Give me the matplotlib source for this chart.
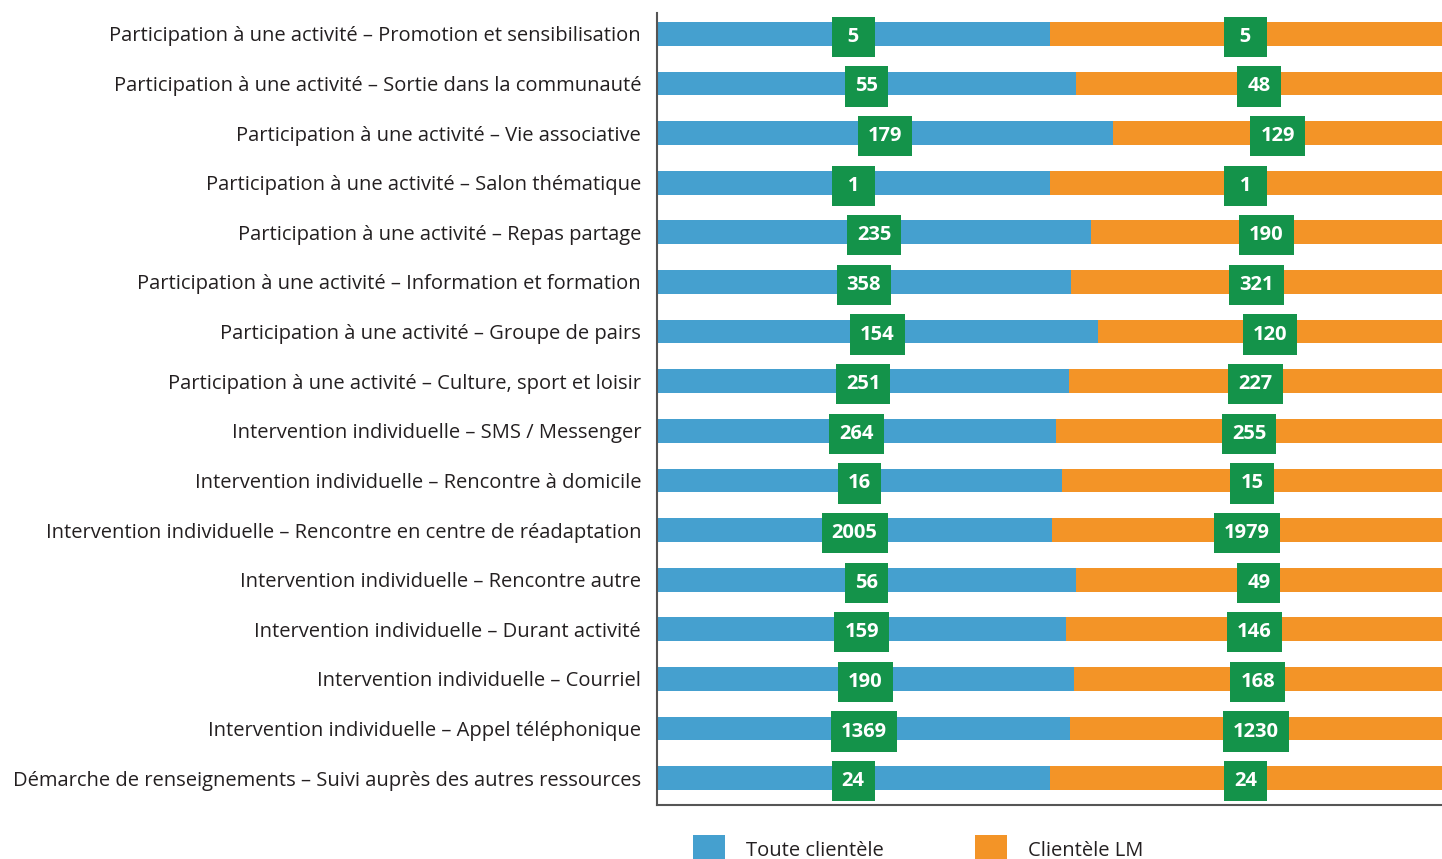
import matplotlib
matplotlib.use("Agg")
import matplotlib.pyplot as plt
import numpy as np

categories = [
    "Participation à une activité – Promotion et sensibilisation",
    "Participation à une activité – Sortie dans la communauté",
    "Participation à une activité – Vie associative",
    "Participation à une activité – Salon thématique",
    "Participation à une activité – Repas partage",
    "Participation à une activité – Information et formation",
    "Participation à une activité – Groupe de pairs",
    "Participation à une activité – Culture, sport et loisir",
    "Intervention individuelle – SMS / Messenger",
    "Intervention individuelle – Rencontre à domicile",
    "Intervention individuelle – Rencontre en centre de réadaptation",
    "Intervention individuelle – Rencontre autre",
    "Intervention individuelle – Durant activité",
    "Intervention individuelle – Courriel",
    "Intervention individuelle – Appel téléphonique",
    "Démarche de renseignements – Suivi auprès des autres ressources",
]
toute = [5, 55, 179, 1, 235, 358, 154, 251, 264, 16, 2005, 56, 159, 190, 1369, 24]
lm = [5, 48, 129, 1, 190, 321, 120, 227, 255, 15, 1979, 49, 146, 168, 1230, 24]
series_names = ["Toute clientèle", "Clientèle LM"]

BLUE = "#45a0cf"
ORANGE = "#f39427"
GREEN = "#14934a"
FONT = "Open Sans"

plt.rcParams['font.family'] = [FONT, 'DejaVu Sans']

fig = plt.figure(figsize=(14.42, 8.59), dpi=100)
ax = fig.add_axes([657/1442, 1-805/859, 1-657/1442, (805-13)/859])

t = np.array(toute, dtype=float)
o = np.array(lm, dtype=float)
tot = t + o
ft = t / tot
fo = o / tot
y = np.arange(len(categories))
h = 0.48
ax.barh(y, ft, height=h, color=BLUE, label=series_names[0])
ax.barh(y, fo, left=ft, height=h, color=ORANGE, label=series_names[1])

def lab(v):
    s = str(v)
    return s if len(s) > 1 else "\u2008" + s + "\u2008"

for i in range(len(categories)):
    for xc, v in ((ft[i] / 2, toute[i]), (ft[i] + fo[i] / 2, lm[i])):
        ax.text(xc, y[i] + 0.06, lab(v), ha="center", va="center", color="white",
                fontsize=14.5, fontweight="bold", family=[FONT, 'DejaVu Sans'],
                bbox=dict(boxstyle="square,pad=0.5", fc=GREEN, ec="none"))

ax.set_xlim(0, 1)
ax.set_ylim(15.54, -0.42)
ax.set_yticks(y)
ax.set_yticklabels(categories, fontsize=14.5, color="#231f20")
ax.tick_params(axis="y", length=0, pad=11.5)
ax.set_xticks([])
for s in ("top", "right"):
    ax.spines[s].set_visible(False)
for s in ("left", "bottom"):
    ax.spines[s].set_color("#555555")
    ax.spines[s].set_linewidth(1.5)

fig.legend(loc="lower left", bbox_to_anchor=(675/1442, -0.026), ncol=2, frameon=False,
           fontsize=14.5, handlelength=1.6, handleheight=1.75, handletextpad=1.05,
           columnspacing=4.5, labelcolor="#231f20")

fig.savefig("out.png", dpi=100)
